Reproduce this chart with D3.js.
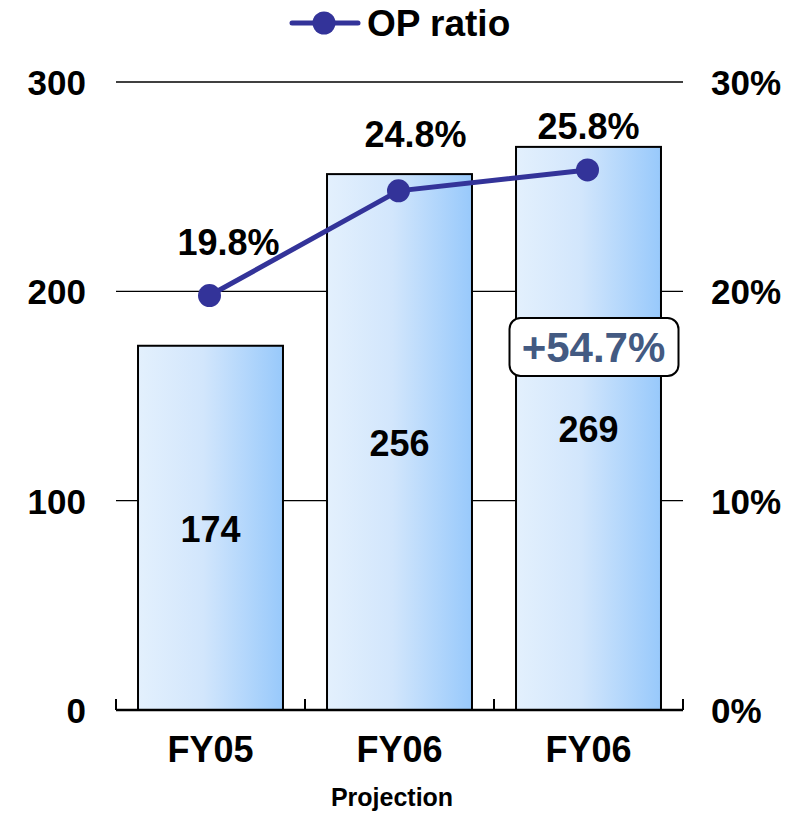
<!DOCTYPE html>
<html>
<head>
<meta charset="utf-8">
<script src="https://cdn.jsdelivr.net/npm/d3@7"></script>
<style>
  body { margin: 0; background: #fff; }
  text { font-family: "Liberation Sans", Arial, sans-serif; font-weight: bold; }
</style>
</head>
<body>
<div id="chart"></div>
<script>
// data
var categories = ["FY05", "FY06", "FY06p"];
var categoryLabels = ["FY05", "FY06", "FY06"];
var opValues = [174, 256, 269];
var opRatio = [19.8, 24.8, 25.8];
var leftTicks = [0, 100, 200, 300];
var rightTicks = [0, 10, 20, 30];
var growthLabel = "+54.7%";

// label nudges (layout only)
var ratioLabelDx = [18, 16, 0];
var ratioLabelDy = [-41, -44, -31];

var width = 797, height = 813;
var svg = d3.select("#chart").append("svg").attr("width", width).attr("height", height);

var x = d3.scaleBand().domain(categories).range([116, 683])
  .paddingInner(0.233).paddingOuter(0.1165);
var y = d3.scaleLinear().domain([0, 300]).range([710, 82]);
var y2 = d3.scaleLinear().domain([0, 30]).range([710, 82]);

// gradient for bars
var grad = svg.append("defs").append("linearGradient").attr("id", "barGrad")
  .attr("x1", "0%").attr("x2", "100%").attr("y1", "0%").attr("y2", "0%");
grad.append("stop").attr("offset", "0%").attr("stop-color", "#e3f0fd");
grad.append("stop").attr("offset", "45%").attr("stop-color", "#d2e6fc");
grad.append("stop").attr("offset", "100%").attr("stop-color", "#98c9fb");

// gridlines
svg.selectAll(".grid").data(leftTicks.slice(1)).enter().append("line")
  .attr("x1", 116).attr("x2", 683)
  .attr("y1", d => y(d)).attr("y2", d => y(d))
  .attr("stroke", "#000").attr("stroke-width", 1.3);

// left axis labels
svg.selectAll(".ylab").data(leftTicks).enter().append("text")
  .attr("x", 86).attr("y", d => y(d) + 13)
  .attr("text-anchor", "end").attr("font-size", 35)
  .text(d => d);

// right axis labels
svg.selectAll(".y2lab").data(rightTicks).enter().append("text")
  .attr("x", 711).attr("y", d => y2(d) + 13)
  .attr("text-anchor", "start").attr("font-size", 35)
  .text(d => d + "%");

// bars
svg.selectAll(".bar").data(opValues).enter().append("rect")
  .attr("x", (d, i) => x(categories[i]))
  .attr("y", d => y(d))
  .attr("width", x.bandwidth())
  .attr("height", d => y(0) - y(d))
  .attr("fill", "url(#barGrad)")
  .attr("stroke", "#000").attr("stroke-width", 2);

// x axis line and ticks
svg.append("line").attr("x1", 116).attr("x2", 683).attr("y1", 710).attr("y2", 710)
  .attr("stroke", "#000").attr("stroke-width", 2.5);
var bounds = [116].concat(categories.map(c => x(c) + x.bandwidth() + x.step() * x.paddingInner() / 2));
bounds[bounds.length - 1] = 683;
svg.selectAll(".xtick").data(bounds).enter().append("line")
  .attr("x1", d => d).attr("x2", d => d).attr("y1", 699).attr("y2", 710)
  .attr("stroke", "#000").attr("stroke-width", 2);

// x labels
svg.selectAll(".xlab").data(categoryLabels).enter().append("text")
  .attr("x", (d, i) => x(categories[i]) + x.bandwidth() / 2)
  .attr("y", 762).attr("text-anchor", "middle").attr("font-size", 36)
  .text(d => d);
svg.append("text").attr("x", 392).attr("y", 806).attr("text-anchor", "middle")
  .attr("font-size", 25).text("Projection");

// bar value labels
svg.selectAll(".vlab").data(opValues).enter().append("text")
  .attr("x", (d, i) => x(categories[i]) + x.bandwidth() / 2)
  .attr("y", d => (y(d) + y(0)) / 2 + 14)
  .attr("text-anchor", "middle").attr("font-size", 36)
  .text(d => d);

// growth box
var gx = x(categories[2]) + x.bandwidth() / 2;
svg.append("rect").attr("x", gx - 79).attr("y", 318).attr("width", 169).attr("height", 58)
  .attr("rx", 11).attr("fill", "#fff").attr("stroke", "#000").attr("stroke-width", 2);
svg.append("text").attr("x", gx + 5).attr("y", 362).attr("text-anchor", "middle")
  .attr("font-size", 42).attr("fill", "#435a82").text(growthLabel);

// ratio line
var line = d3.line()
  .x((d, i) => x(categories[i]) + x.bandwidth() / 2 - 1)
  .y(d => y2(d));
svg.append("path").datum(opRatio).attr("d", line)
  .attr("fill", "none").attr("stroke", "#333399").attr("stroke-width", 5);
svg.selectAll(".dot").data(opRatio).enter().append("circle")
  .attr("cx", (d, i) => x(categories[i]) + x.bandwidth() / 2 - 1)
  .attr("cy", d => y2(d)).attr("r", 11.5).attr("fill", "#333399");

// ratio labels
svg.selectAll(".rlab").data(opRatio).enter().append("text")
  .attr("x", (d, i) => x(categories[i]) + x.bandwidth() / 2 + ratioLabelDx[i])
  .attr("y", (d, i) => y2(d) + ratioLabelDy[i])
  .attr("text-anchor", "middle").attr("font-size", 36)
  .text(d => d.toFixed(1) + "%");

// legend
var lg = svg.append("g");
lg.append("line").attr("x1", 292).attr("x2", 358).attr("y1", 23).attr("y2", 23)
  .attr("stroke", "#333399").attr("stroke-width", 5).attr("stroke-linecap", "round");
lg.append("circle").attr("cx", 324).attr("cy", 23).attr("r", 11.5).attr("fill", "#333399");
lg.append("text").attr("x", 367).attr("y", 36).attr("font-size", 37).text("OP ratio");
</script>
</body>
</html>
